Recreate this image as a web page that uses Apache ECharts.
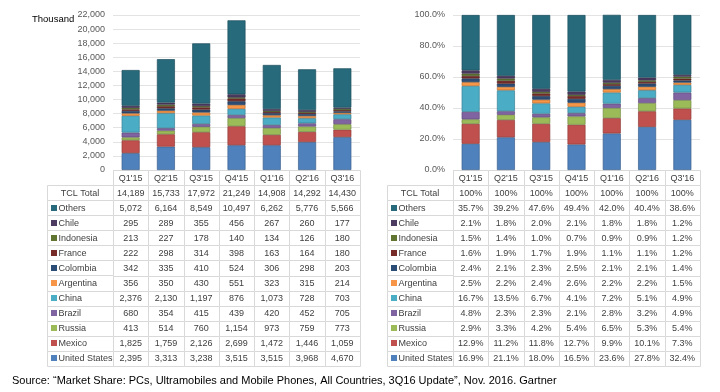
<!DOCTYPE html>
<html><head><meta charset="utf-8">
<script src="https://cdn.jsdelivr.net/npm/echarts@6/dist/echarts.min.js"></script>
<style>html,body{margin:0;padding:0;background:#fff}#c{width:720px;height:392px}</style>
</head><body><div id="c"></div>
<script>
// ---- data ----
const categories = ["Q1'15","Q2'15","Q3'15","Q4'15","Q1'16","Q2'16","Q3'16"];
const seriesNames = ['United States','Mexico','Russia','Brazil','China','Argentina','Colombia','France','Indonesia','Chile','Others'];

const tclTotal      = [14189,15733,17972,21249,14908,14292,14430];
const unitedStates  = [2395,3313,3238,3515,3515,3968,4670];
const mexico        = [1825,1759,2126,2699,1472,1446,1059];
const russia        = [413,514,760,1154,973,759,773];
const brazil        = [680,354,415,439,420,452,705];
const china         = [2376,2130,1197,876,1073,728,703];
const argentina     = [356,350,430,551,323,315,214];
const colombia      = [342,335,410,524,306,298,203];
const france        = [222,298,314,398,163,164,180];
const indonesia     = [213,227,178,140,134,126,180];
const chile         = [295,289,355,456,267,260,177];
const others        = [5072,6164,8549,10497,6262,5776,5566];

const shareTotal        = [100,100,100,100,100,100,100];
const shareUnitedStates = [16.9,21.1,18.0,16.5,23.6,27.8,32.4];
const shareMexico       = [12.9,11.2,11.8,12.7,9.9,10.1,7.3];
const shareRussia       = [2.9,3.3,4.2,5.4,6.5,5.3,5.4];
const shareBrazil       = [4.8,2.3,2.3,2.1,2.8,3.2,4.9];
const shareChina        = [16.7,13.5,6.7,4.1,7.2,5.1,4.9];
const shareArgentina    = [2.5,2.2,2.4,2.6,2.2,2.2,1.5];
const shareColombia     = [2.4,2.1,2.3,2.5,2.1,2.1,1.4];
const shareFrance       = [1.6,1.9,1.7,1.9,1.1,1.1,1.2];
const shareIndonesia    = [1.5,1.4,1.0,0.7,0.9,0.9,1.2];
const shareChile        = [2.1,1.8,2.0,2.1,1.8,1.8,1.2];
const shareOthers       = [35.7,39.2,47.6,49.4,42.0,40.4,38.6];

const unitsAxis = {min:0, max:22000, interval:2000};
const shareAxis = {min:0, max:100, interval:20};
const totalLabel = 'TCL Total';
const unitName = 'Thousand';
const sourceText = 'Source: \u201CMarket Share: PCs, Ultramobiles and Mobile Phones, All Countries, 3Q16 Update\u201D, Nov. 2016. Gartner';

// ---- styles ----
const seriesColors = ['#4F81BD','#C0504D','#9BBB59','#8064A2','#4BACC6','#F79646','#2C4D75','#772C2A','#5F7530','#4D3B62','#276A7C'];
const FONT = '"Liberation Sans", Arial, sans-serif';
function darken(hex, f){
  const n = parseInt(hex.slice(1),16);
  const r=((n>>16)&255)*f|0, g=((n>>8)&255)*f|0, b=(n&255)*f|0;
  return 'rgb('+r+','+g+','+b+')';
}

const unitSeries = [unitedStates,mexico,russia,brazil,china,argentina,colombia,france,indonesia,chile,others];
const shareSeries = [shareUnitedStates,shareMexico,shareRussia,shareBrazil,shareChina,shareArgentina,shareColombia,shareFrance,shareIndonesia,shareChile,shareOthers];

// table rows top to bottom (after header)
const rowNames = [totalLabel].concat(seriesNames.slice().reverse());
const rowColors = [null].concat(seriesColors.slice().reverse());
const headerRows = ['header'].concat(rowNames);

function fmtUnits(v){ return v.toLocaleString('en-US'); }
function fmtShare(v){ return v.toFixed(1) + '%'; }

function buildTable(totals, seriesArr, fmtSeries, fmtTotal){
  const data = [], texts = [];
  categories.forEach((c,i)=>{ data.push([i,0]); texts.push(c); });
  categories.forEach((c,i)=>{ data.push([i,1]); texts.push(fmtTotal(totals[i])); });
  const rev = seriesArr.slice().reverse();
  rev.forEach((arr,r)=>{
    arr.forEach((v,i)=>{ data.push([i,r+2]); texts.push(fmtSeries(v)); });
  });
  return {data, texts};
}

const leftTable = buildTable(tclTotal, unitSeries, fmtUnits, fmtUnits);
const rightTable = buildTable(shareTotal, shareSeries, fmtShare, v => v + '%');

function cellRect(p, s){
  const x0 = Math.round(p[0]-s[0]/2)+0.5, y0 = Math.round(p[1]-s[1]/2)+0.5;
  const x1 = Math.round(p[0]+s[0]/2)+0.5, y1 = Math.round(p[1]+s[1]/2)+0.5;
  return {x:x0, y:y0, width:x1-x0, height:y1-y0};
}

function valueCells(texts){
  return function(params, api){
    const p = api.coord([api.value(0), api.value(1)]);
    const s = api.size([1,1]);
    return {type:'group', children:[
      {type:'rect', shape:cellRect(p,s), style:{fill:'#fff', stroke:'#d9d9d9', lineWidth:1}},
      {type:'text', style:{text:texts[params.dataIndex], x:p[0], y:p[1]+0.5, textAlign:'center', textVerticalAlign:'middle', font:'9px '+FONT, fill:'#404040'}}
    ]};
  };
}
function labelCells(params, api){
  const r = api.value(1);
  const p = api.coord([0, r]);
  const s = api.size([1,1]);
  const rect = cellRect(p,s);
  const children = [{type:'rect', shape:rect, style:{fill:'#fff', stroke:'#d9d9d9', lineWidth:1}}];
  if (rowColors[r]) {
    children.push({type:'rect', shape:{x:rect.x+3.5, y:Math.round(p[1])-3, width:6, height:6}, style:{fill:rowColors[r]}});
    children.push({type:'text', style:{text:rowNames[r], x:rect.x+11, y:p[1]+0.5, textAlign:'left', textVerticalAlign:'middle', font:'9px '+FONT, fill:'#404040'}});
  } else {
    children.push({type:'text', style:{text:rowNames[r], x:p[0], y:p[1]+0.5, textAlign:'center', textVerticalAlign:'middle', font:'9px '+FONT, fill:'#404040'}});
  }
  return {type:'group', children};
}

const labelData = rowNames.map((n,r)=>[0,r]);

const hiddenCat = (data, extra) => Object.assign({type:'category', data, show:false, boundaryGap:true}, extra||{});

const option = {
  animation:false,
  backgroundColor:'#fff',
  title:{text:unitName, left:27, top:9, textStyle:{fontFamily:FONT, fontSize:9.5, fontWeight:'normal', color:'#000'}},
  grid:[
    {left:113, top:15, width:247, height:155},          // 0 left bars
    {left:453, top:15, width:247, height:155},          // 1 right bars
    {left:113, top:170, width:247, height:196},         // 2 left table values
    {left:47,  top:185, width:66,  height:181},         // 3 left table labels
    {left:453, top:170, width:247, height:196},         // 4 right table values
    {left:387, top:185, width:66,  height:181}          // 5 right table labels
  ],
  xAxis:[
    {gridIndex:0, type:'category', data:categories, axisLine:{show:false}, axisTick:{show:false}, axisLabel:{show:false}},
    {gridIndex:1, type:'category', data:categories, axisLine:{show:false}, axisTick:{show:false}, axisLabel:{show:false}},
    hiddenCat(categories,{gridIndex:2}),
    hiddenCat(['label'],{gridIndex:3}),
    hiddenCat(categories,{gridIndex:4}),
    hiddenCat(['label'],{gridIndex:5})
  ],
  yAxis:[
    {gridIndex:0, type:'value', min:unitsAxis.min, max:unitsAxis.max, interval:unitsAxis.interval,
      axisLine:{show:false}, axisTick:{show:false},
      axisLabel:{margin:8, fontFamily:FONT, fontSize:9, color:'#595959', formatter:v=>fmtUnits(v)},
      splitLine:{lineStyle:{color:'#e3e3e3', width:1}}},
    {gridIndex:1, type:'value', min:shareAxis.min, max:shareAxis.max, interval:shareAxis.interval,
      axisLine:{show:false}, axisTick:{show:false},
      axisLabel:{margin:8, fontFamily:FONT, fontSize:9, color:'#595959', formatter:v=>v.toFixed(1)+'%'},
      splitLine:{lineStyle:{color:'#e3e3e3', width:1}}},
    hiddenCat(headerRows,{gridIndex:2, inverse:true}),
    hiddenCat(rowNames,{gridIndex:3, inverse:true}),
    hiddenCat(headerRows,{gridIndex:4, inverse:true}),
    hiddenCat(rowNames,{gridIndex:5, inverse:true})
  ],
  series: [].concat(
    seriesNames.map((n,i)=>({
      name:n, type:'bar', stack:'units', xAxisIndex:0, yAxisIndex:0, data:unitSeries[i],
      barCategoryGap:'49%',
      itemStyle:{color:seriesColors[i], borderColor:darken(seriesColors[i],0.75), borderWidth:0.7}
    })),
    seriesNames.map((n,i)=>({
      name:n+' share', type:'bar', stack:'share', xAxisIndex:1, yAxisIndex:1, data:shareSeries[i],
      barCategoryGap:'49%',
      itemStyle:{color:seriesColors[i], borderColor:darken(seriesColors[i],0.75), borderWidth:0.7}
    })),
    [
      {type:'custom', xAxisIndex:2, yAxisIndex:2, data:leftTable.data, renderItem:valueCells(leftTable.texts), silent:true},
      {type:'custom', xAxisIndex:3, yAxisIndex:3, data:labelData, renderItem:labelCells, silent:true},
      {type:'custom', xAxisIndex:4, yAxisIndex:4, data:rightTable.data, renderItem:valueCells(rightTable.texts), silent:true},
      {type:'custom', xAxisIndex:5, yAxisIndex:5, data:labelData, renderItem:labelCells, silent:true}
    ]
  ),
  graphic:[
    {type:'text', left:12, top:375, style:{text:sourceText, font:'11px '+FONT, fill:'#000'}}
  ]
};

const chart = echarts.init(document.getElementById('c'), null, {renderer:'canvas'});
chart.setOption(option);
</script>
</body></html>
